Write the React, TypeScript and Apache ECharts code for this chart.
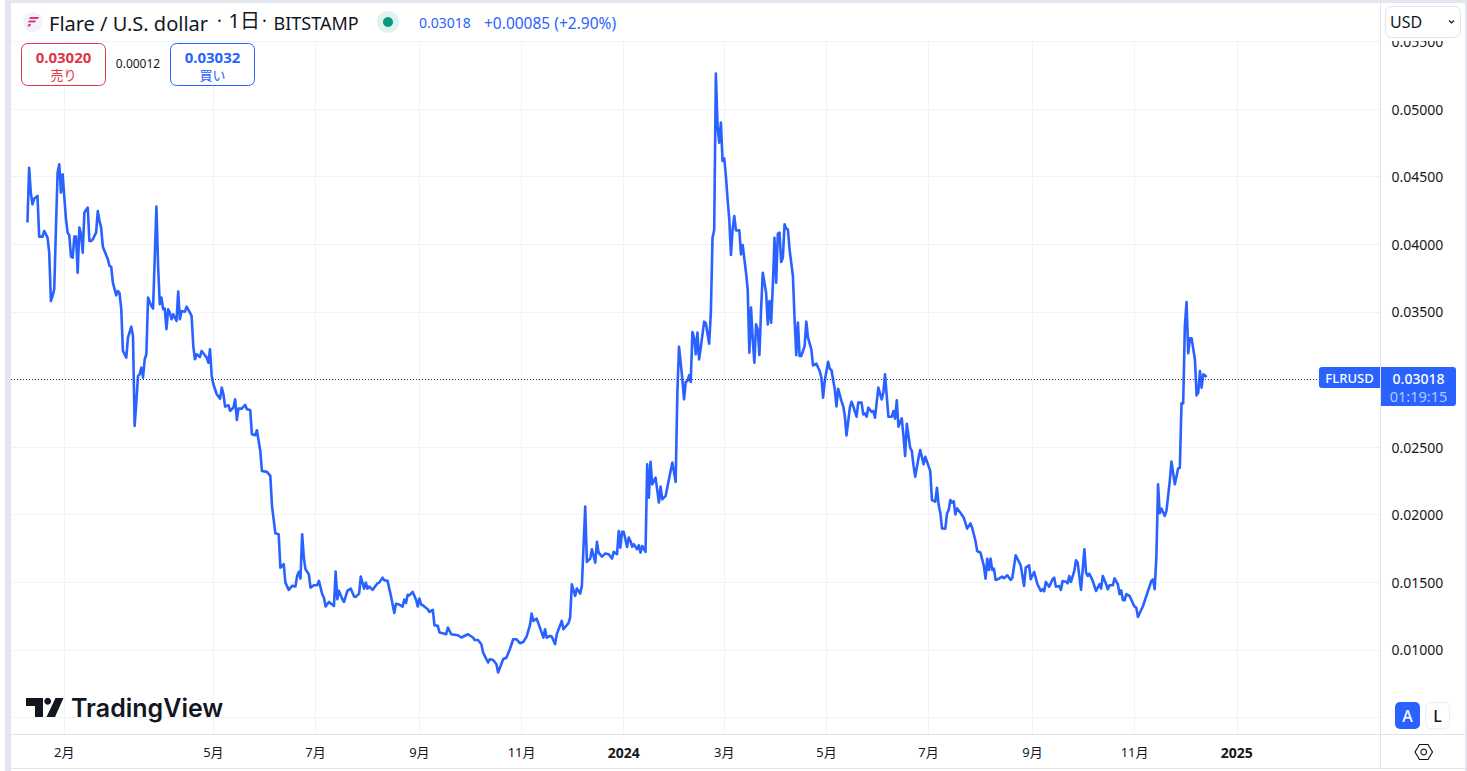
import React, { useEffect, useRef } from "react";
import * as echarts from "echarts";

// [days since 2023-01-01, close in USD]
const closes2023Q1: [number, number][] = [
  [9,.0416],[10,.04566],[11,.04382],[12,.04295],[13,.04337],[15,.04357],[16,.04056],[18,.04056],[19,.04098],[21,.04049],[22,.03938],[23,.0358],[24,.03617],[25,.03667],[26,.0411],[27,.0453],[28,.04591],[29,.04382],[30,.04517],[32,.04184],[33,.04086],[34,.04066],[35,.03908],[36,.03901],[37,.04056],[38,.04056],[39,.0379],[40,.04123],[41,.04073],[42,.03938],[43,.04234],[45,.04271],[46,.04024],[47,.04024],[48,.04036],[50,.04086],[51,.04246],[52,.04172],[53,.04123],[54,.03982],[55,.0395],[57,.03889],[58,.03839],[59,.03834],[60,.03716],[62,.03622],[63,.03654],[64,.03637],[65,.03519],[66,.03211],[68,.03161],[69,.03309],[71,.0339],[72,.03322],[73,.02656],[74,.02829],[75,.03026],[76,.03038],[77,.03087],[78,.03013],[79,.03149],[80,.03186],[81,.03605],[83,.03543],[84,.03524],[86,.04278],[87,.03839],[88,.03556],[89,.03605],
];
const closes2023Q2: [number, number][] = [
  [90,.03519],[91,.03524],[92,.03371],[93,.03519],[94,.03494],[95,.03445],[96,.03482],[98,.03433],[99,.03649],[100,.03445],[101,.03506],[103,.03501],[104,.03538],[106,.03494],[107,.03469],[108,.03248],[109,.03149],[110,.03186],[112,.03166],[113,.03211],[114,.03193],[116,.03161],[117,.03124],[118,.03223],[119,.03026],[120,.02964],[122,.0289],[124,.02858],[125,.02939],[126,.0289],[127,.02799],[129,.02809],[130,.02767],[132,.02792],[133,.02853],[134,.027],[135,.02784],[137,.02784],[139,.02811],[140,.02779],[142,.02774],[143,.02594],[145,.02587],[146,.02624],[148,.02471],[149,.02323],[152,.02316],[154,.02286],[155,.02064],[157,.01862],[159,.01855],[160,.01608],[162,.01633],[163,.01497],[165,.01443],[167,.01473],[169,.01468],[170,.01547],[171,.01576],[172,.01527],[173,.01855],[174,.01682],[175,.01596],[177,.01559],[178,.0146],
];
const closes2023Q3: [number, number][] = [
  [180,.01478],[182,.01478],[183,.0151],[185,.01411],[186,.01386],[187,.0132],[189,.01354],[192,.01325],[193,.01579],[194,.01374],[195,.01436],[197,.01374],[198,.01354],[200,.01436],[202,.01453],[204,.01394],[205,.01391],[207,.01416],[208,.01542],[209,.01497],[210,.01453],[211,.01497],[212,.01453],[213,.01468],[215,.01443],[218,.01492],[219,.01497],[221,.01534],[222,.01515],[224,.0151],[226,.01399],[228,.01273],[229,.0134],[231,.01335],[233,.0132],[234,.01371],[235,.01347],[236,.01407],[237,.01402],[239,.01428],[241,.01371],[242,.0132],[243,.01379],[244,.01335],[245,.0133],[248,.013],[249,.0128],[251,.01295],[252,.01182],[254,.01177],[255,.01128],[257,.01123],[259,.01115],[260,.01165],[262,.01115],[266,.01108],[268,.01091],
];
const closes2023Q4: [number, number][] = [
  [272,.01115],[275,.01091],[276,.01073],[278,.01073],[280,.01041],[281,.0098],[282,.00955],[284,.00906],[285,.0093],[287,.00925],[289,.00893],[290,.00832],[293,.0093],[295,.00943],[297,.01004],[299,.01078],[301,.01078],[303,.01049],[305,.01058],[307,.01098],[309,.01182],[310,.01268],[311,.01214],[313,.01231],[316,.01127],[317,.0109],[318,.01152],[319,.0109],[321,.01103],[322,.01098],[324,.01041],[325,.01115],[328,.01214],[329,.01152],[332,.01197],[333,.01238],[334,.01485],[336,.01399],[337,.01453],[339,.01416],[340,.01473],[342,.02059],[343,.0165],[345,.01675],[346,.01744],[348,.01645],[349,.01798],[350,.01719],[352,.01689],[354,.01712],[356,.01707],[358,.01675],[359,.01724],[361,.01707],[362,.01879],[363,.01756],[364,.01872],
];
const closes2024Q1: [number, number][] = [
  [365,.01872],[367,.01761],[368,.0183],[369,.01805],[370,.01763],[371,.01781],[373,.01744],[374,.01773],[375,.01719],[376,.01768],[378,.01724],[379,.02372],[380,.02126],[381,.0239],[382,.02224],[384,.02274],[386,.02089],[387,.02207],[388,.02113],[390,.02138],[392,.02262],[394,.02385],[396,.02242],[397,.02902],[398,.03242],[400,.03001],[401,.02853],[402,.02981],[403,.02988],[404,.0303],[405,.02981],[406,.03351],[407,.03309],[408,.03186],[409,.03346],[410,.03148],[411,.03235],[413,.03427],[414,.03415],[416,.03264],[417,.03494],[418,.04048],[419,.04105],[420,.05263],[421,.04874],[422,.04751],[423,.04899],[424,.04615],[425,.04635],[426,.04504],[427,.04332],[428,.04184],[429,.0392],[430,.0411],[431,.04208],[432,.04102],[434,.04102],[435,.03925],[436,.03994],[438,.03789],[439,.03666],[440,.03198],[441,.03531],[442,.03296],[443,.03124],[444,.03407],[445,.0337],[446,.0318],[447,.03518],[448,.03789],[450,.03642],[451,.03407],[452,.0358],[453,.0342],[454,.03691],[455,.04048],
];
const closes2024Q2: [number, number][] = [
  [456,.03715],[457,.04078],[458,.04085],[459,.03868],[460,.039],[461,.04147],[462,.04115],[463,.0411],[464,.03962],[466,.03765],[467,.03444],[468,.0318],[469,.0342],[470,.03173],[471,.03173],[473,.03247],[474,.03427],[475,.03309],[477,.03222],[478,.03104],[480,.03116],[482,.03062],[483,.03013],[484,.02865],[485,.02988],[487,.03131],[488,.03079],[489,.0307],[491,.02927],[492,.028],[493,.02931],[495,.0284],[496,.02803],[497,.02729],[498,.02586],[500,.02791],[501,.02835],[502,.02803],[504,.02724],[505,.02828],[507,.02828],[508,.02741],[509,.02749],[510,.02724],[511,.02791],[513,.02759],[514,.02766],[515,.02717],[517,.02939],[519,.02852],[520,.02902],[521,.03037],[523,.02724],[525,.02724],[526,.02766],[527,.02709],[528,.02845],[529,.0265],[531,.02712],[532,.02581],[533,.02433],[534,.02672],[536,.02495],[537,.0247],[538,.02364],[539,.0228],[541,.02421],[542,.02478],[544,.02372],[545,.02428],
];
const closes2024Q3: [number, number][] = [
  [547,.02359],[548,.02322],[549,.02108],[551,.02096],[552,.02199],[553,.02071],[554,.02014],[555,.01898],[557,.01896],[558,.02009],[559,.02034],[560,.02108],[561,.02088],[562,.021],[563,.02002],[564,.02046],[566,.02014],[568,.01977],[570,.01896],[572,.01935],[573,.01903],[575,.01805],[576,.01731],[578,.01718],[579,.01669],[580,.0162],[581,.01526],[582,.01674],[583,.0159],[584,.01674],[585,.0159],[586,.016],[587,.01517],[589,.01526],[591,.01541],[592,.01529],[594,.01551],[596,.01517],[597,.01534],[599,.01699],[602,.01625],[604,.01472],[605,.01608],[607,.01625],[608,.01522],[610,.01576],[612,.01485],[614,.01435],[615,.01448],[616,.01433],[617,.01502],[619,.01467],[621,.01522],[622,.01534],[623,.01467],[625,.01472],[626,.01443],[627,.01509],[629,.01504],[630,.01492],[631,.01546],[632,.01502],[634,.01583],[635,.01662],[636,.01645],
];
const closes2024Q4: [number, number][] = [
  [638,.01443],[640,.01743],[641,.01571],[642,.01546],[643,.01563],[645,.01509],[647,.01435],[649,.01485],[650,.01453],[651,.01546],[653,.01485],[654,.01448],[655,.01477],[657,.01477],[658,.01529],[660,.01485],[661,.01411],[662,.0144],[663,.01369],[664,.01366],[665,.01411],[667,.01398],[669,.01344],[670,.01319],[671,.01312],[672,.01243],[675,.01324],[677,.01398],[680,.01509],[681,.01521],[682,.01448],[683,.01694],[684,.02224],[685,.0201],[686,.02044],[688,.0199],[689,.02027],[691,.02249],[692,.02392],[694,.02224],[696,.02342],[697,.02347],[698,.02823],[699,.02823],[700,.03395],[701,.03572],[702,.03193],[703,.03304],[704,.03304],[706,.03148],[707,.02882],[708,.02902],[709,.03062],[710,.02939],[711,.03037],[712,.0303],[713,.03018],
];
const closes = [
  ...closes2023Q1, ...closes2023Q2, ...closes2023Q3, ...closes2023Q4,
  ...closes2024Q1, ...closes2024Q2, ...closes2024Q3, ...closes2024Q4,
];

const monthTickDays = [31, 120, 181, 243, 304, 365, 425, 486, 547, 609, 670, 731];
const monthTickLabels = ["2月", "5月", "7月", "9月", "11月", "2024", "3月", "5月", "7月", "9月", "11月", "2025"];
const priceGridLines = [0.005, 0.01, 0.015, 0.02, 0.025, 0.03, 0.035, 0.04, 0.045, 0.05, 0.055];
const priceLabels = [0.01, 0.015, 0.02, 0.025, 0.03, 0.035, 0.04, 0.045, 0.05, 0.055];
const lastPrice = 0.03018;

const FONT = '"Noto Sans", "Noto Sans CJK JP", sans-serif';
const BLUE = "#2962ff";
const RED = "#e0364a";
const INK = "#131722";
const EDGE = "#e0e3eb";

const text = (t: string, x: number, y: number, fontSize: number, fill: string, extra: any = {}) => ({
  type: "text", z: 12, x, y, silent: true,
  style: { text: t, fontSize, fill, fontFamily: FONT, verticalAlign: "middle", align: "left", ...extra },
});
const box = (x: number, y: number, width: number, height: number, style: any, r: any = 0, z = 11) => ({
  type: "rect", z, silent: true, shape: { x, y, width, height, r }, style,
});
const poly = (points: number[][], fill: string) => ({
  type: "polygon", z: 12, silent: true, shape: { points }, style: { fill },
});

const overlay: any[] = [
  // page frame
  box(0, 0, 6, 771, { fill: "#ffffff" }, 0, 9),
  box(5, 0, 6, 771, { fill: "#e3e6ee" }, 0, 9),
  box(5, 0, 1462, 3, { fill: "#e3e6ee" }, 0, 9),
  box(1465, 0, 2, 771, { fill: "#e3e6ee" }, 0, 9),
  box(11, 768, 1456, 1, { fill: EDGE }, 0, 9),
  box(11, 734, 1454, 1, { fill: EDGE }, 0, 10),
  box(1380, 3, 1, 765, { fill: EDGE }, 0, 10),
  // hides the top of the clipped scale label
  box(1381, 3, 84, 38, { fill: "#ffffff" }, 0, 10),
  // header
  { type: "circle", z: 11, silent: true, shape: { cx: 33, cy: 22, r: 10 }, style: { fill: "#f0f3fa" } },
  poly([[30, 17], [39, 17], [38, 19], [29, 19]], "#e6356e"),
  poly([[29, 20.5], [36, 20.5], [35, 22.5], [28, 22.5]], "#e6356e"),
  poly([[28.5, 24], [31, 24], [30, 26.5], [27.5, 26.5]], "#e6356e"),
  text("Flare / U.S. dollar", 49, 23, 20, INK),
  text("·", 217, 20, 18, INK),
  text("1日", 228.5, 20.5, 20, INK),
  text("·", 262, 20, 18, INK),
  text("BITSTAMP", 273.5, 23, 18, INK),
  { type: "circle", z: 11, silent: true, shape: { cx: 388, cy: 22, r: 11 }, style: { fill: "#dff3ee" } },
  { type: "circle", z: 12, silent: true, shape: { cx: 388, cy: 22, r: 5 }, style: { fill: "#089981" } },
  text("0.03018", 419, 22.5, 14, BLUE),
  text("+0.00085 (+2.90%)", 484, 22.5, 15.5, BLUE),
  // sell / buy
  box(21.5, 43.5, 84, 42, { fill: "#ffffff", stroke: RED, lineWidth: 1 }, 6),
  text("0.03020", 63.5, 56.5, 15, RED, { align: "center", fontWeight: "bold" }),
  text("売り", 63.5, 74.5, 13, RED, { align: "center" }),
  text("0.00012", 138, 63.5, 12, INK, { align: "center" }),
  box(170.5, 43.5, 84, 42, { fill: "#ffffff", stroke: BLUE, lineWidth: 1 }, 6),
  text("0.03032", 212.5, 56.5, 15, BLUE, { align: "center", fontWeight: "bold" }),
  text("買い", 212.5, 74.5, 13, BLUE, { align: "center" }),
  // currency switch
  box(1385.5, 6.5, 75, 31, { fill: "#ffffff", stroke: EDGE, lineWidth: 1 }, 6),
  text("USD", 1390, 21.5, 16, INK),
  { type: "polyline", z: 12, silent: true, shape: { points: [[1449, 20.5], [1451.5, 23], [1454, 20.5]] }, style: { stroke: INK, lineWidth: 1.2, fill: "none" } },
  // last price tags
  box(1319, 367, 61, 21, { fill: BLUE }, [3, 0, 0, 3]),
  text("FLRUSD", 1349.5, 378, 13, "#ffffff", { align: "center", fontWeight: 500 }),
  box(1381, 367, 75, 39, { fill: BLUE }, [0, 3, 3, 0]),
  text("0.03018", 1418.5, 378, 14, "#ffffff", { align: "center", fontWeight: 500 }),
  text("01:19:15", 1418.5, 396, 14.5, "#b5c9ff", { align: "center" }),
  // TradingView logo
  poly([[26, 698], [43, 698], [43, 717], [35, 717], [35, 706], [26, 706]], INK),
  { type: "circle", z: 12, silent: true, shape: { cx: 47.7, cy: 701.2, r: 3.4 }, style: { fill: INK } },
  poly([[55.5, 698], [63.5, 698], [55, 717], [46.5, 717]], INK),
  text("TradingView", 71, 708, 25, INK, { fontWeight: 600, fontFamily: "Inter, " + FONT }),
  // auto / log buttons
  box(1395, 702, 25, 27, { fill: BLUE }, 5),
  text("A", 1407.5, 716, 16, "#ffffff", { align: "center", fontWeight: 500 }),
  box(1425.5, 702.5, 24, 26, { fill: "#ffffff", stroke: "#eceef3", lineWidth: 1 }, 5),
  text("L", 1437.5, 716, 16, INK, { align: "center", fontWeight: 500 }),
  // settings hexagon
  { type: "polygon", z: 12, silent: true, shape: { points: [[1415, 752], [1419.5, 744.5], [1428, 744.5], [1432.5, 752], [1428, 759.5], [1419.5, 759.5]] }, style: { fill: "none", stroke: INK, lineWidth: 1.2 } },
  { type: "ring", z: 12, silent: true, shape: { cx: 1423.7, cy: 752, r: 3.4, r0: 2.3 }, style: { fill: INK } },
];

export default function App() {
  const ref = useRef<HTMLDivElement>(null);
  useEffect(() => {
    document.body.style.margin = "0";
    const chart = echarts.init(ref.current!, null, { renderer: "svg" });
    chart.setOption({
      animation: false,
      backgroundColor: "#ffffff",
      grid: { left: 11, top: 41, width: 1369, height: 693, containLabel: false },
      xAxis: {
        type: "value",
        min: -0.82,
        max: 816.5,
        axisLine: { show: false },
        axisTick: { show: false, customValues: monthTickDays },
        splitLine: { show: true, lineStyle: { color: "#f0f3fa", width: 1 } },
        axisLabel: {
          customValues: monthTickDays,
          margin: 11,
          color: INK,
          fontSize: 13,
          fontFamily: FONT,
          formatter: (v: number) => {
            const label = monthTickLabels[monthTickDays.indexOf(v)] ?? "";
            return label.length === 4 ? `{year|${label}}` : label;
          },
          rich: { year: { fontWeight: "bold", fontSize: 14, color: INK, fontFamily: FONT } },
        },
      },
      yAxis: {
        type: "value",
        position: "right",
        min: 0.003773,
        max: 0.05503,
        axisLine: { show: false },
        axisTick: { show: false, customValues: priceGridLines },
        splitLine: { show: true, lineStyle: { color: "#f0f3fa", width: 1 } },
        axisLabel: {
          customValues: priceLabels,
          margin: 11.5,
          color: INK,
          fontSize: 14,
          fontFamily: FONT,
          padding: [0, 0, 2, 0],
          formatter: (v: number) => v.toFixed(5),
        },
      },
      series: [
        {
          type: "line",
          data: closes,
          showSymbol: false,
          symbol: "none",
          smooth: false,
          lineStyle: { color: BLUE, width: 2.6, join: "round" },
          markLine: {
            silent: true,
            symbol: "none",
            label: { show: false },
            lineStyle: { color: "#2a3568", width: 1, type: [1, 2] },
            data: [{ yAxis: lastPrice }],
          },
        },
      ],
      graphic: { elements: overlay },
    });
    return () => chart.dispose();
  }, []);
  return <div ref={ref} style={{ width: 1467, height: 771 }} />;
}
